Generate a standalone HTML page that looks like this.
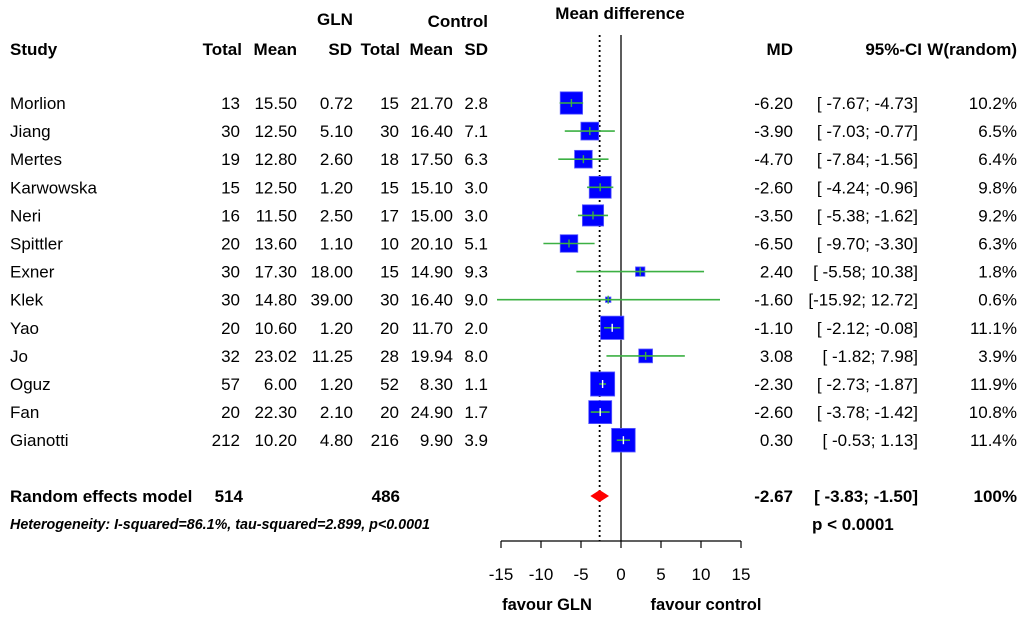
<!DOCTYPE html>
<html><head><meta charset="utf-8"><style>
html,body{margin:0;padding:0;background:#fff;}
svg{display:block;font-family:"Liberation Sans",Arial,sans-serif;}
</style></head><body>
<svg id="plot" width="1024" height="617" viewBox="0 0 1024 617">
<g id="hdr" font-weight="bold" font-size="17" fill="#000">
<text x="335" y="25" text-anchor="middle">GLN</text>
<text x="488" y="27" text-anchor="end">Control</text>
<text x="620" y="19" text-anchor="middle">Mean difference</text>
<text x="10" y="55">Study</text>
<text x="242" y="55" text-anchor="end">Total</text>
<text x="297" y="55" text-anchor="end">Mean</text>
<text x="352" y="55" text-anchor="end">SD</text>
<text x="400" y="55" text-anchor="end">Total</text>
<text x="453" y="55" text-anchor="end">Mean</text>
<text x="488" y="55" text-anchor="end">SD</text>
<text x="793" y="55" text-anchor="end">MD</text>
<text x="922" y="55" text-anchor="end">95%-CI</text>
<text x="1017" y="55" text-anchor="end">W(random)</text>
</g>
<g id="rows"></g>
<g id="marks"></g>
</svg>
<script>
const studies=["Morlion","Jiang","Mertes","Karwowska","Neri","Spittler","Exner","Klek","Yao","Jo","Oguz","Fan","Gianotti"];
const glnTotal=[13,30,19,15,16,20,30,30,20,32,57,20,212];
const glnMean=["15.50","12.50","12.80","12.50","11.50","13.60","17.30","14.80","10.60","23.02","6.00","22.30","10.20"];
const glnSD=["0.72","5.10","2.60","1.20","2.50","1.10","18.00","39.00","1.20","11.25","1.20","2.10","4.80"];
const ctlTotal=[15,30,18,15,17,10,15,30,20,28,52,20,216];
const ctlMean=["21.70","16.40","17.50","15.10","15.00","20.10","14.90","16.40","11.70","19.94","8.30","24.90","9.90"];
const ctlSD=["2.8","7.1","6.3","3.0","3.0","5.1","9.3","9.0","2.0","8.0","1.1","1.7","3.9"];
const md=[-6.20,-3.90,-4.70,-2.60,-3.50,-6.50,2.40,-1.60,-1.10,3.08,-2.30,-2.60,0.30];
const lo=[-7.67,-7.03,-7.84,-4.24,-5.38,-9.70,-5.58,-15.92,-2.12,-1.82,-2.73,-3.78,-0.53];
const hi=[-4.73,-0.77,-1.56,-0.96,-1.62,-3.30,10.38,12.72,-0.08,7.98,-1.87,-1.42,1.13];
const weight=[10.2,6.5,6.4,9.8,9.2,6.3,1.8,0.6,11.1,3.9,11.9,10.8,11.4];
const pooled=[-2.67,-3.83,-1.50];
const xTicks=[-15,-10,-5,0,5,10,15];
const NS="http://www.w3.org/2000/svg";
const X=v=>621+v*8;
const rowY=i=>103+i*28.1;
function el(p,tag,a,txt){const e=document.createElementNS(NS,tag);for(const k in a)e.setAttribute(k,a[k]);if(txt!==undefined)e.textContent=txt;p.appendChild(e);return e;}
const rows=document.getElementById('rows'),marks=document.getElementById('marks');
const f=v=>v.toFixed(2);
let l=el(marks,'line',{x1:X(0),x2:X(0),y1:35,y2:541,stroke:'#333','stroke-width':1.6});


l=el(marks,'line',{x1:X(pooled[0]),x2:X(pooled[0]),y1:35,y2:541,stroke:'#000','stroke-width':1.8,'stroke-dasharray':'2,3'});


studies.forEach((s,i)=>{
 const y=rowY(i),ty=y+6;
 const g=el(rows,'g',{'font-size':17,fill:'#000'});
 
 
 el(g,'text',{x:10,y:ty},s);
 el(g,'text',{x:240,y:ty,'text-anchor':'end'},glnTotal[i]);
 el(g,'text',{x:297,y:ty,'text-anchor':'end'},glnMean[i]);
 el(g,'text',{x:353,y:ty,'text-anchor':'end'},glnSD[i]);
 el(g,'text',{x:399,y:ty,'text-anchor':'end'},ctlTotal[i]);
 el(g,'text',{x:453,y:ty,'text-anchor':'end'},ctlMean[i]);
 el(g,'text',{x:488,y:ty,'text-anchor':'end'},ctlSD[i]);
 el(g,'text',{x:793,y:ty,'text-anchor':'end'},f(md[i]));
 const a=f(lo[i]),b=f(hi[i]);
 el(g,'text',{x:918,y:ty,'text-anchor':'end','xml:space':'preserve'},'['+(a.length<6?' '.repeat(6-a.length)+' ':'')+a+'; '+(b.length<5?' ':'')+b+']');
 el(g,'text',{x:1017,y:ty,'text-anchor':'end'},weight[i].toFixed(1)+'%');
 const m=el(marks,'g',{});
 
 
 const sz=7*Math.sqrt(weight[i]);
 el(m,'rect',{x:X(md[i])-sz/2,y:y-sz/2,width:sz,height:sz,fill:'#0000ff',stroke:'#5c5cff','stroke-width':0.8});
 const lx1=Math.max(X(lo[i]),497),lx2=Math.min(X(hi[i]),720);
 el(m,'line',{x1:lx1,x2:lx2,y1:y,y2:y,stroke:'#3cb043','stroke-width':1.6});
 el(m,'line',{x1:X(md[i]),x2:X(md[i]),y1:y-4,y2:y+4,stroke:md[i]>-3&&weight[i]>10.5?'#fff':'#3cb043','stroke-width':1.4});
});
const py=496;
const pg=el(rows,'g',{'font-size':17,'font-weight':'bold',fill:'#000'});


el(pg,'text',{x:10,y:py+6},'Random effects model');
el(pg,'text',{x:243,y:py+6,'text-anchor':'end'},'514');
el(pg,'text',{x:400,y:py+6,'text-anchor':'end'},'486');
el(pg,'text',{x:793,y:py+6,'text-anchor':'end'},f(pooled[0]));
el(pg,'text',{x:918,y:py+6,'text-anchor':'end','xml:space':'preserve'},'[ '+f(pooled[1])+'; '+f(pooled[2])+']');
el(pg,'text',{x:1017,y:py+6,'text-anchor':'end'},'100%');
el(pg,'text',{x:812,y:530},'p < 0.0001');
const het=el(rows,'text',{x:10,y:529,'font-size':14.3,'font-weight':'bold','font-style':'italic'},'Heterogeneity: I-squared=86.1%, tau-squared=2.899, p<0.0001');


const d=el(marks,'polygon',{points:`${X(pooled[1])},${py} ${X(pooled[0])},${py-6} ${X(pooled[2])},${py} ${X(pooled[0])},${py+6}`,fill:'#ff0000'});


const ax=el(marks,'g',{});


el(ax,'line',{x1:X(xTicks[0]),x2:X(xTicks[xTicks.length-1]),y1:541,y2:541,stroke:'#000','stroke-width':1.2});
xTicks.forEach(t=>{
 el(ax,'line',{x1:X(t),x2:X(t),y1:541,y2:548,stroke:'#000','stroke-width':1.2});
 const tl=el(ax,'text',{x:X(t),y:580,'font-size':17,'text-anchor':'middle'},String(t));
 
 
});
const fa=el(marks,'text',{x:547,y:610,'font-size':16.5,'font-weight':'bold','text-anchor':'middle'},'favour GLN');


const fc=el(marks,'text',{x:706,y:610,'font-size':16.5,'font-weight':'bold','text-anchor':'middle'},'favour control');


</script>
</body></html>
